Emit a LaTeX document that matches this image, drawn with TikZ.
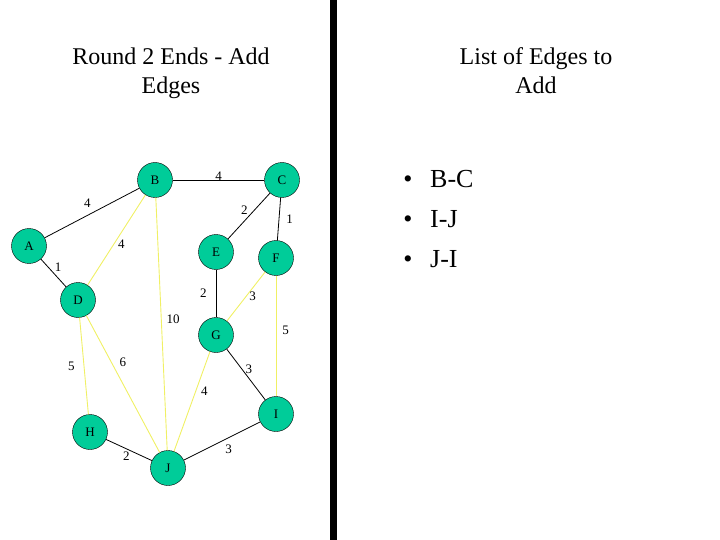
\documentclass[tikz,border=0pt]{standalone}
\usepackage{fontspec}
\setmainfont{Liberation Serif}
\definecolor{NodeGreen}{RGB}{0,204,153}
\definecolor{PaleYellow}{RGB}{240,240,100}
\usetikzlibrary{positioning}

\begin{document}
\begin{tikzpicture}[x=1pt,y=-1pt,
    vert/.style={draw,circle,fill=NodeGreen,minimum size=35pt,inner sep=0pt,font=\fontsize{13}{13}\selectfont},
    kept/.style={draw=black,line width=0.8pt},
    added/.style={draw=PaleYellow,line width=0.9pt},
    wt/.style={font=\fontsize{13}{13}\selectfont,inner sep=1pt},
    title/.style={align=center,font=\fontsize{24}{29}\selectfont,anchor=north}]
      \useasboundingbox (0,0) rectangle (720,540);
      \fill (330,0) rectangle (337,540);
      \node[title] (t1) at (171,44) {Round 2 Ends - Add\\Edges};
      \node[title] (t2) at (536,44) {List of Edges to\\Add};
      % graph
      \node[vert] (A) at (29,246) {A};
      \node[vert] (B) at (155,180) {B};
      \node[vert] (C) at (282,180) {C};
      \node[vert] (D) at (78,300) {D};
      \node[vert] (E) at (216,252) {E};
      \node[vert] (F) at (276,258) {F};
      \node[vert] (G) at (216,335) {G};
      \node[vert] (H) at (90,432) {H};
      \node[vert] (I) at (276,414) {I};
      \node[vert] (J) at (168,468) {J};
      \draw[added] (B)--node[wt,pos=0.55,right=3pt]{4} (D);
      \draw[added] (B)--node[wt,pos=0.48,right=4pt]{10} (J);
      \draw[added] (F)--node[wt,midway,right=2pt]{3} (G);
      \draw[added] (F)--node[wt,pos=0.45,right=5pt]{5} (I);
      \draw[added] (D)--node[wt,midway,left=8pt]{5} (H);
      \draw[added] (D)--node[wt,pos=0.38,above right=0pt and 4pt]{6} (J);
      \draw[added] (G)--node[wt,pos=0.4,right=4pt]{4} (J);
      \draw[kept] (A)--node[wt,midway,above left=4pt and 0pt]{4} (B);
      \draw[kept] (B)--node[wt,midway,above=-2pt]{4} (C);
      \draw[kept] (C)--node[wt,midway,above left=0pt and 0pt]{2} (E);
      \draw[kept] (C)--node[wt,midway,right=6pt]{1} (F);
      \draw[kept] (A)--node[wt,midway,above right=0pt and 0pt]{1} (D);
      \draw[kept] (E)--node[wt,midway,left=8pt]{2} (G);
      \draw[kept] (G)--node[wt,pos=0.4,right=2pt]{3} (I);
      \draw[kept] (H)--node[wt,midway,below left=0pt and -2pt]{2} (J);
      \draw[kept] (J)--node[wt,midway,below right=2pt and 2pt]{3} (I);
      % list
      \foreach \e/\y in {B-C/188,I-J/227,J-I/267}{
        \node[font=\fontsize{26}{26}\selectfont,anchor=base] at (408,\y) {\textbullet};
        \node[font=\fontsize{26}{26}\selectfont,anchor=base west,inner sep=0pt] at (430,\y) {\e};
      }
    \end{tikzpicture}
\end{document}
